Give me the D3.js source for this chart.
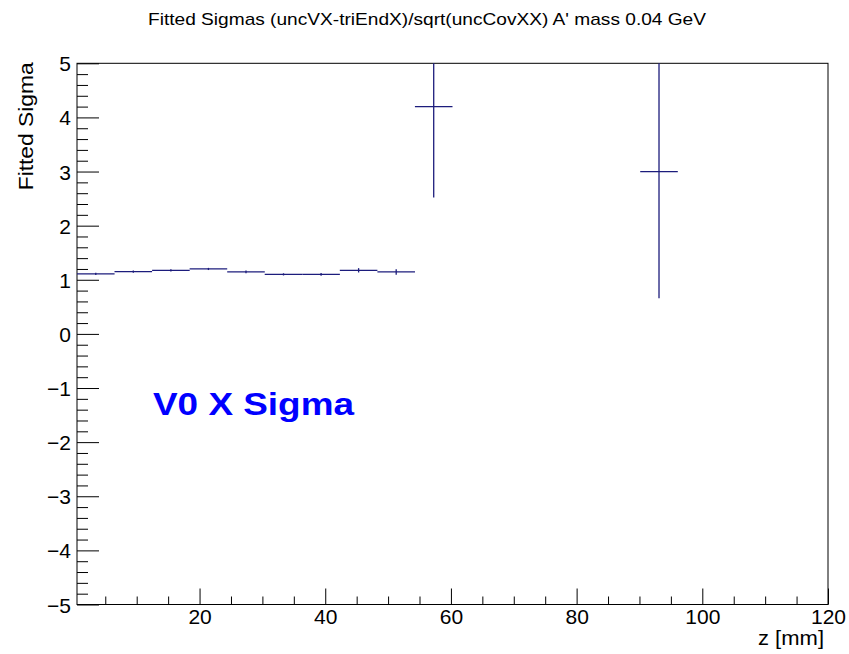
<!DOCTYPE html>
<html>
<head>
<meta charset="utf-8">
<script src="https://cdn.jsdelivr.net/npm/d3@7"></script>
<style>
  html, body { margin: 0; padding: 0; background: #fff; }
  svg { display: block; font-family: "Liberation Sans", Arial, Helvetica, sans-serif; }
</style>
</head>
<body>
<svg id="chart" width="849" height="654"></svg>
<script>
// Fitted sigma per z bin (bin centres in mm, half bin width)
const zCenters = [3.49, 9.46, 15.44, 21.41, 27.39, 33.36, 39.34, 45.31, 51.29, 57.26, 93.11];
const binHalfWidth = 2.99;
const sigmaValues = [1.11, 1.15, 1.175, 1.20, 1.145, 1.10, 1.10, 1.175, 1.145, 4.20, 3.00];
const sigmaErrors = [0.02, 0.02, 0.02, 0.02, 0.025, 0.02, 0.025, 0.04, 0.05, 1.68, 2.34];

const xDomain = [0.5, 120];
const yDomain = [-5, 5];
const xMajorTicks = [20, 40, 60, 80, 100, 120];
const yMajorTicks = [-5, -4, -3, -2, -1, 0, 1, 2, 3, 4, 5];

const titleText = "Fitted Sigmas (uncVX-triEndX)/sqrt(uncCovXX) A' mass 0.04 GeV";
const xTitle = "z [mm]";
const yTitle = "Fitted Sigma";
const noteText = "V0 X Sigma";

const frame = { left: 77, right: 828, top: 63.3, bottom: 604.5 };
const lineColor = "#1c1c7c";
const labelFont = "Liberation Sans, Arial, sans-serif";

const svg = d3.select("#chart");
const x = d3.scaleLinear().domain(xDomain).range([frame.left, frame.right]);
const y = d3.scaleLinear().domain(yDomain).range([frame.bottom, frame.top]);

// clip region for the plotted points
svg.append("defs").append("clipPath").attr("id", "plotClip")
  .append("rect")
  .attr("x", frame.left).attr("y", frame.top)
  .attr("width", frame.right - frame.left).attr("height", frame.bottom - frame.top);

// x axis: ticks pointing into the frame
const xMinor = d3.range(5, 121, 5).filter(v => v >= xDomain[0] && v <= xDomain[1] && !xMajorTicks.includes(v));
const xAxis = d3.axisBottom(x).tickValues(xMajorTicks).tickSize(-16).tickPadding(0).tickFormat(d3.format("d"));
const gx = svg.append("g").attr("transform", `translate(0,${frame.bottom})`).call(xAxis);
gx.select(".domain").remove();
gx.selectAll(".tick line").attr("stroke", "#000").attr("stroke-width", 1);
gx.selectAll(".tick text").attr("y", 19).attr("dy", 0).attr("font-size", 21).attr("fill", "#000")
  .attr("font-family", labelFont);
const gxm = svg.append("g").attr("transform", `translate(0,${frame.bottom})`)
  .call(d3.axisBottom(x).tickValues(xMinor).tickSize(-8).tickFormat(""));
gxm.select(".domain").remove();
gxm.selectAll(".tick line").attr("stroke", "#000");

// y axis
const yMinor = d3.range(-50, 51, 2).map(v => v / 10).filter(v => !yMajorTicks.includes(v));
const yAxis = d3.axisLeft(y).tickValues(yMajorTicks).tickSize(-22).tickPadding(0).tickFormat(d3.format("d"));
const gy = svg.append("g").attr("transform", `translate(${frame.left},0)`).call(yAxis);
gy.select(".domain").remove();
gy.selectAll(".tick line").attr("stroke", "#000");
gy.selectAll(".tick text").attr("x", -6).attr("dy", "0.36em").attr("font-size", 21).attr("fill", "#000")
  .attr("font-family", labelFont);
const gym = svg.append("g").attr("transform", `translate(${frame.left},0)`)
  .call(d3.axisLeft(y).tickValues(yMinor).tickSize(-11).tickFormat(""));
gym.select(".domain").remove();
gym.selectAll(".tick line").attr("stroke", "#000");

// frame
svg.append("rect")
  .attr("x", frame.left).attr("y", frame.top)
  .attr("width", frame.right - frame.left).attr("height", frame.bottom - frame.top)
  .attr("fill", "none").attr("stroke", "#000").attr("stroke-width", 1);

// points with horizontal bin width and vertical error bars
const points = zCenters.map((z, i) => ({ z, v: sigmaValues[i], e: sigmaErrors[i] }));
const gp = svg.append("g").attr("clip-path", "url(#plotClip)")
  .attr("stroke", lineColor).attr("stroke-width", 1.3);
gp.selectAll("line.h").data(points).join("line").attr("class", "h")
  .attr("x1", d => x(d.z - binHalfWidth)).attr("x2", d => x(d.z + binHalfWidth))
  .attr("y1", d => y(d.v)).attr("y2", d => y(d.v));
gp.selectAll("line.v").data(points).join("line").attr("class", "v")
  .attr("x1", d => x(d.z)).attr("x2", d => x(d.z))
  .attr("y1", d => y(d.v - d.e)).attr("y2", d => y(d.v + d.e));

// titles
svg.append("text").attr("x", 427).attr("y", 25).attr("text-anchor", "middle")
  .attr("font-size", 17).attr("fill", "#000")
  .attr("textLength", 558).attr("lengthAdjust", "spacingAndGlyphs").text(titleText);
svg.append("text").attr("x", 824).attr("y", 645).attr("text-anchor", "end")
  .attr("font-size", 21).attr("fill", "#000")
  .attr("textLength", 66).attr("lengthAdjust", "spacingAndGlyphs").text(xTitle);
svg.append("text").attr("transform", `translate(33,${frame.top - 1}) rotate(-90)`).attr("text-anchor", "end")
  .attr("font-size", 21).attr("fill", "#000")
  .attr("textLength", 128).attr("lengthAdjust", "spacingAndGlyphs").text(yTitle);

// annotation
svg.append("text").attr("x", 153).attr("y", 415)
  .attr("font-size", 31).attr("font-weight", "bold").attr("fill", "#0000ff")
  .attr("textLength", 201).attr("lengthAdjust", "spacingAndGlyphs")
  .text(noteText);
</script>
</body>
</html>
